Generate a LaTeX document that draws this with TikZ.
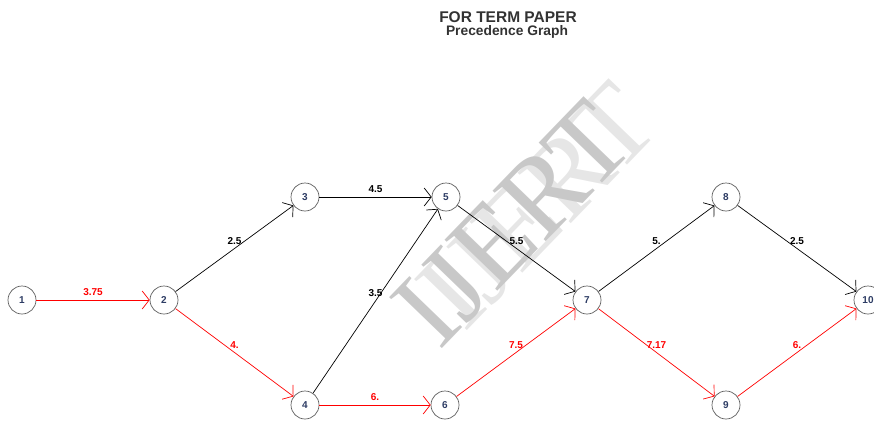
\documentclass[tikz,border=0pt]{standalone}
\usepackage{fontspec}
\setmainfont{Liberation Sans}
\newfontfamily\wmfont{Liberation Serif}
\usetikzlibrary{arrows.meta}
\definecolor{nodelab}{RGB}{45,60,100}
\definecolor{nodeline}{RGB}{95,95,95}
\definecolor{wmdark}{RGB}{200,200,200}
\definecolor{wmlight}{RGB}{230,230,230}
\definecolor{titlec}{RGB}{50,50,50}
\begin{document}
\begin{tikzpicture}[x=1pt,y=-1pt,
  vtx/.style={circle, draw=nodeline, line width=0.7pt, fill=white, minimum size=28pt, inner sep=0pt,
    font=\fontsize{10}{10}\selectfont\bfseries, text=nodelab},
  tip/.style={-{Straight Barb[length=7pt,width=18pt]}},
  blk/.style={draw=black, line width=0.7pt, tip},
  crit/.style={draw=red, line width=0.7pt, tip},
  wlab/.style={font=\fontsize{10}{10}\selectfont\bfseries, inner sep=0pt, yshift=7.5pt},
  wmark/.style={rotate=46, inner sep=0pt, font=\wmfont\fontsize{112}{112}\selectfont},
]
\useasboundingbox (0,0) rectangle (874,420);
% watermark (light shadow copy, then darker copy)
\node[wmark, text=wmlight] (wmshadow) at (538,206) {IJERT};
\node[wmark, text=wmdark] (wmmain) at (513,224) {IJERT};
% title
\node[text=titlec, font=\fontsize{15.5}{15.5}\selectfont\bfseries, inner sep=0pt] (title) at (508,17) {FOR TERM PAPER};
\node[text=titlec, font=\fontsize{13.8}{13.8}\selectfont\bfseries, inner sep=0pt] (subtitle) at (507,32) {Precedence Graph};
% nodes
\node[vtx] (n1) at (22,300) {1};
\node[vtx] (n2) at (164,300) {2};
\node[vtx] (n3) at (305,197) {3};
\node[vtx] (n4) at (305,405) {4};
\node[vtx] (n5) at (446,197) {5};
\node[vtx] (n6) at (445,405) {6};
\node[vtx] (n7) at (587,300) {7};
\node[vtx] (n8) at (726,197) {8};
\node[vtx] (n9) at (726,405) {9};
\node[vtx] (n10) at (868,300) {10};
% edges
\draw[crit] (n1) -- node[wlab, text=red] {3.75} (n2);
\draw[blk] (n2) -- node[wlab] {2.5} (n3);
\draw[crit] (n2) -- node[wlab, text=red] {4.} (n4);
\draw[blk] (n3) -- node[wlab] {4.5} (n5);
\draw[blk] (n4) -- node[wlab] {3.5} (n5);
\draw[crit] (n4) -- node[wlab, text=red] {6.} (n6);
\draw[blk] (n5) -- node[wlab] {5.5} (n7);
\draw[crit] (n6) -- node[wlab, text=red] {7.5} (n7);
\draw[blk] (n7) -- node[wlab] {5.} (n8);
\draw[crit] (n7) -- node[wlab, text=red] {7.17} (n9);
\draw[blk] (n8) -- node[wlab] {2.5} (n10);
\draw[crit] (n9) -- node[wlab, text=red] {6.} (n10);
\end{tikzpicture}
\end{document}
